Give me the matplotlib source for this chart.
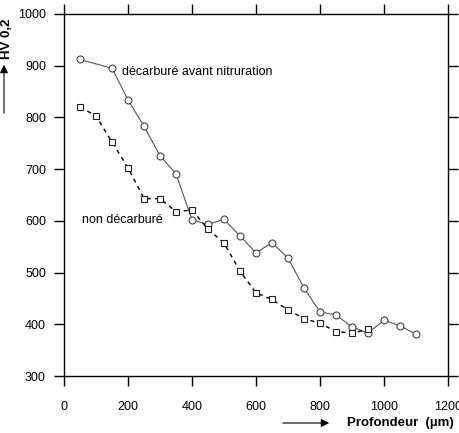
import matplotlib.pyplot as plt

plt.rcParams['font.family'] = ['Liberation Sans', 'DejaVu Sans']

# décarburé avant nitruration
x_dec = [50, 150, 200, 250, 300, 350, 400, 450, 500, 550, 600, 650, 700,
         750, 800, 850, 900, 950, 1000, 1050, 1100]
hv_dec = [912, 895, 834, 783, 726, 691, 602, 593, 603, 571, 538, 558, 528,
          470, 424, 418, 395, 383, 408, 397, 381]

# non décarburé
x_non = [50, 100, 150, 200, 250, 300, 350, 400, 450, 500, 550, 600, 650,
         700, 750, 800, 850, 900, 950]
hv_non = [820, 803, 752, 703, 643, 643, 618, 621, 584, 557, 503, 461, 448,
          428, 411, 402, 386, 383, 390]

xticks = [0, 200, 400, 600, 800, 1000, 1200]
yticks = [300, 400, 500, 600, 700, 800, 900, 1000]

fig = plt.figure(figsize=(4.6, 4.33), dpi=100)
ax = fig.add_axes([0.1391, 0.1316, 0.8348, 0.8361])

ax.plot(x_dec, hv_dec, '-', color='#555555', lw=0.8, marker='o', ms=5,
        mfc='white', mec='#444444', mew=0.8)
ax.plot(x_non, hv_non, '--', color='black', lw=1.0, dashes=(3, 3), marker='s', ms=5,
        mfc='white', mec='#222222', mew=0.8)

ax.text(180, 887, 'décarburé avant nitruration', fontsize=9, va='center', ha='left')
ax.text(55, 602, 'non décarburé', fontsize=9, va='center', ha='left')

ax.set_xlim(0, 1200)
ax.set_ylim(300, 1000)
ax.set_xticks(xticks)
ax.set_yticks(yticks)
ax.tick_params(direction='out', length=7, width=1, labelsize=9, pad=11,
               top=True, right=True, labeltop=False, labelright=False)
ax.tick_params(axis='y', pad=6)
for s in ax.spines.values():
    s.set_linewidth(1.0)

# axis labels with arrows
fig.text(347 / 460, 1 - 423 / 433, 'Profondeur  (\u00b5m)', fontsize=9.5,
         fontweight='bold', ha='left', va='center')
fig.patches.append(plt.matplotlib.patches.FancyArrowPatch(
    (280 / 460, 1 - 423 / 433), (332 / 460, 1 - 423 / 433),
    transform=fig.transFigure, arrowstyle='-|>', mutation_scale=12,
    color='black', lw=0.8))
fig.text(7 / 460, 1 - 39 / 433, 'HV 0,2', fontsize=9.5, fontweight='bold',
         rotation=90, ha='center', va='center')
fig.patches.append(plt.matplotlib.patches.FancyArrowPatch(
    (4 / 460, 1 - 116 / 433), (4 / 460, 1 - 62 / 433),
    transform=fig.transFigure, arrowstyle='-|>', mutation_scale=12,
    color='black', lw=0.8))

fig.savefig('out.png', dpi=100)
